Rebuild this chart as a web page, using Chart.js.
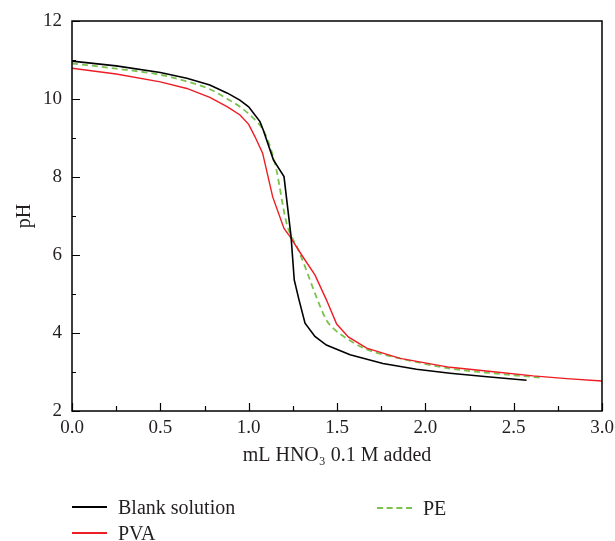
<!DOCTYPE html>
<html>
<head>
<meta charset="utf-8">
<script src="https://cdn.jsdelivr.net/npm/chart.js@4.4.1/dist/chart.umd.min.js"></script>
<style>
  html, body { margin: 0; padding: 0; background: #fff; }
  #wrap { position: relative; width: 615px; height: 541px; }
  #legend { position: absolute; left: 0; top: 0; width: 615px; height: 541px; pointer-events: none;
            font-family: "Liberation Serif", serif; font-size: 20px; color: #231f20; }
  .item { position: absolute; display: flex; align-items: center; height: 24px; white-space: nowrap; }
  .swatch { width: 35px; height: 0; margin-right: 11px; }
</style>
</head>
<body>
<div id="wrap">
  <canvas id="chart" width="615" height="541"></canvas>
  <div id="legend"></div>
</div>
<script>
// titration curves
const blankX  = [0, 0.25, 0.5, 0.65, 0.78, 0.88, 0.95, 1.0, 1.064, 1.083, 1.14, 1.2, 1.24, 1.258, 1.285, 1.319, 1.375, 1.44, 1.574, 1.76, 1.95, 2.14, 2.35, 2.573];
const blankPH = [10.97, 10.85, 10.68, 10.53, 10.36, 10.15, 9.97, 9.8, 9.42, 9.2, 8.44, 8.01, 6.47, 5.36, 4.85, 4.25, 3.91, 3.69, 3.44, 3.22, 3.07, 2.97, 2.88, 2.79];

const pvaX  = [0, 0.25, 0.5, 0.65, 0.78, 0.88, 0.951, 1.0, 1.036, 1.079, 1.136, 1.2, 1.234, 1.3, 1.375, 1.44, 1.498, 1.564, 1.668, 1.857, 2.14, 2.4, 2.61, 2.8, 3.0];
const pvaPH = [10.79, 10.64, 10.44, 10.27, 10.04, 9.8, 9.59, 9.35, 9.03, 8.61, 7.49, 6.68, 6.47, 6.0, 5.49, 4.85, 4.23, 3.9, 3.61, 3.35, 3.12, 3.0, 2.9, 2.83, 2.77];

const peX  = [0, 0.25, 0.5, 0.65, 0.78, 0.88, 0.951, 1.0, 1.045, 1.083, 1.149, 1.215, 1.281, 1.319, 1.347, 1.394, 1.44, 1.479, 1.555, 1.668, 1.857, 2.14, 2.4, 2.668];
const pePH = [10.91, 10.78, 10.62, 10.45, 10.25, 10.0, 9.8, 9.62, 9.42, 9.2, 8.35, 6.81, 6.13, 5.7, 5.36, 4.8, 4.33, 4.12, 3.86, 3.58, 3.35, 3.09, 2.96, 2.85];

const seriesNames = ['Blank solution', 'PVA', 'PE'];

const toPoints = (xs, ys) => xs.map((x, i) => ({ x: x, y: ys[i] }));

const serif = '"Liberation Serif", "Times New Roman", serif';
const ink = '#231f20';

// frame + inward ticks, like the original plot
const frameTicks = {
    id: 'frameTicks',
    afterDraw(chart) {
        const { ctx, chartArea: a, scales } = chart;
        ctx.save();
        ctx.strokeStyle = '#000';
        ctx.lineWidth = 1.5;
        ctx.strokeRect(a.left, a.top, a.right - a.left, a.bottom - a.top);
        ctx.lineWidth = 1.2;
        ctx.beginPath();
        for (let v = 0; v <= 3.001; v += 0.25) {
            const px = Math.round(scales.x.getPixelForValue(v)) + 0.5;
            const len = (Math.round(v * 4) % 2 === 0) ? 8 : 5;
            ctx.moveTo(px, a.bottom);
            ctx.lineTo(px, a.bottom - len);
        }
        for (let v = 2; v <= 12; v += 1) {
            const py = Math.round(scales.y.getPixelForValue(v)) + 0.5;
            const len = (v % 2 === 0) ? 8 : 4;
            ctx.moveTo(a.left, py);
            ctx.lineTo(a.left + len, py);
        }
        ctx.stroke();
        ctx.restore();
    }
};

const ctx = document.getElementById('chart').getContext('2d');
const chart = new Chart(ctx, {
    type: 'line',
    data: {
        datasets: [
            {
                label: seriesNames[0],
                data: toPoints(blankX, blankPH),
                borderColor: '#000000',
                borderWidth: 1.6,
                tension: 0
            },
            {
                label: seriesNames[1],
                data: toPoints(pvaX, pvaPH),
                borderColor: '#ee1c24',
                borderWidth: 1.4,
                tension: 0
            },
            {
                label: seriesNames[2],
                data: toPoints(peX, pePH),
                borderColor: '#7cc24f',
                borderWidth: 1.8,
                borderDash: [6, 4],
                cubicInterpolationMode: 'monotone'
            }
        ]
    },
    options: {
        responsive: false,
        animation: false,
        events: [],
        elements: { point: { radius: 0 } },
        layout: { padding: { top: 21, right: 13, left: 0, bottom: 0 } },
        plugins: { legend: { display: false }, tooltip: { enabled: false } },
        scales: {
            x: {
                type: 'linear',
                min: 0,
                max: 3,
                grid: { display: false, drawTicks: false },
                border: { display: false },
                ticks: {
                    stepSize: 0.5,
                    padding: 6,
                    color: ink,
                    font: { family: serif, size: 19 },
                    callback: v => v.toFixed(1)
                },
                title: {
                    display: true,
                    text: 'mL HNO₃ 0.1 M added',
                    color: ink,
                    font: { family: serif, size: 20, lineHeight: 1.2 },
                    padding: { top: 4, bottom: 73 }
                },
                afterFit: s => {
                    s.height = 130;
                    s.paddingLeft = 0;
                    s.paddingRight = 0;
                }
            },
            y: {
                min: 2,
                max: 12,
                grid: { display: false, drawTicks: false },
                border: { display: false },
                ticks: {
                    stepSize: 2,
                    padding: 10,
                    color: ink,
                    font: { family: serif, size: 19 }
                },
                title: {
                    display: true,
                    text: 'pH',
                    color: ink,
                    font: { family: serif, size: 20, lineHeight: 1.2 },
                    padding: { top: 13, bottom: 0 }
                },
                afterFit: s => {
                    s.width = 72;
                    s.paddingTop = 0;
                    s.paddingBottom = 0;
                }
            }
        }
    },
    plugins: [frameTicks]
});

// legend laid out in two columns below the axis, as in the figure
const legendSpots = [
    { left: 72, top: 495 },
    { left: 72, top: 521 },
    { left: 377, top: 496 }
];
const legendBox = document.getElementById('legend');
chart.data.datasets.forEach((ds, i) => {
    const item = document.createElement('div');
    item.className = 'item';
    item.style.left = legendSpots[i].left + 'px';
    item.style.top = legendSpots[i].top + 'px';
    const sw = document.createElement('span');
    sw.className = 'swatch';
    sw.style.borderTop = (ds.borderDash ? '2px dashed ' : '2px solid ') + ds.borderColor;
    const txt = document.createElement('span');
    txt.textContent = ds.label;
    item.appendChild(sw);
    item.appendChild(txt);
    legendBox.appendChild(item);
});
</script>
</body>
</html>
